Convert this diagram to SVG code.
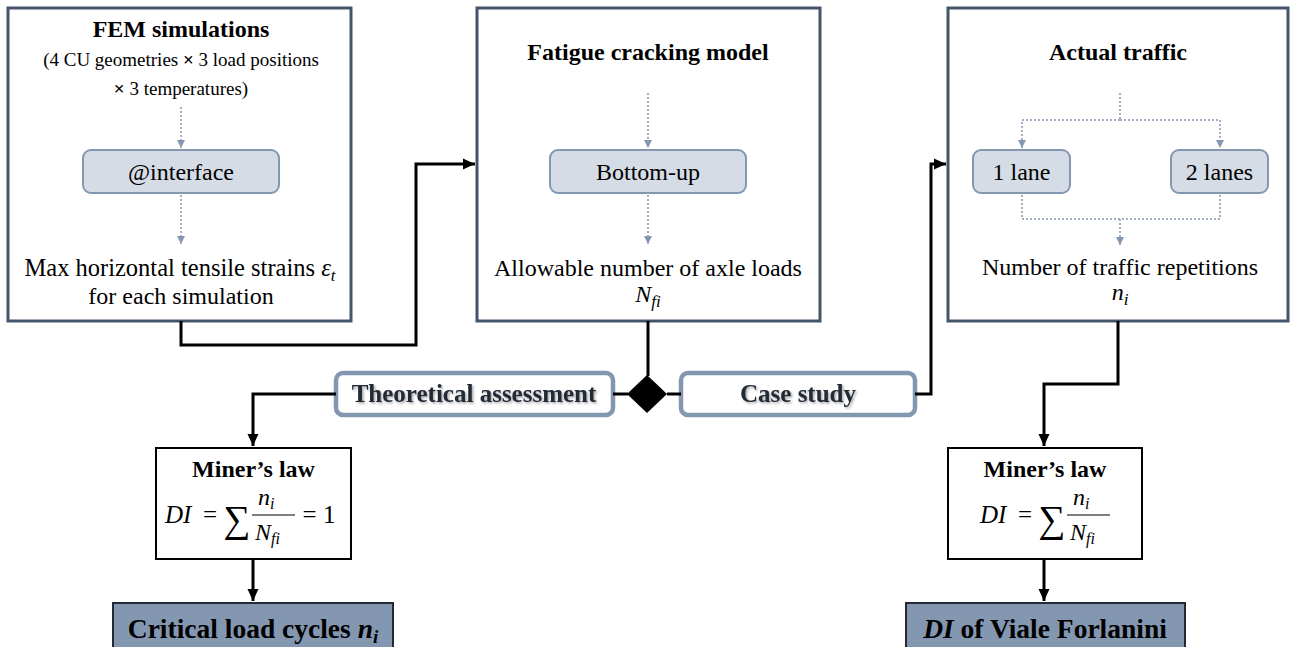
<svg xmlns="http://www.w3.org/2000/svg" width="1290" height="647" viewBox="0 0 1290 647">
<style>
.big{fill:#fff;stroke:#44546A;stroke-width:3}
.sub{fill:#D6DCE5;stroke:#8497B0;stroke-width:2}
.tag{fill:#fff;stroke:#8497B0;stroke-width:4.5}
.law{fill:#fff;stroke:#000;stroke-width:2}
.res{fill:#8497B0;stroke:#222A35;stroke-width:2}
.t{font-family:"Liberation Serif","Times New Roman",serif;fill:#000;text-anchor:middle}
.b{font-weight:bold}
.m{font-family:"Liberation Serif","Times New Roman",serif;font-style:italic}
.dot{fill:none;stroke:#8497B0;stroke-width:1.5;stroke-dasharray:2 2}
.con{fill:none;stroke:#000;stroke-width:3}
.tg{font-family:"Liberation Serif","Times New Roman",serif;font-weight:bold;fill:#222A35;text-anchor:middle;filter:url(#sh)}
</style>
<defs>
<marker id="da" markerUnits="userSpaceOnUse" markerWidth="10" markerHeight="10" refX="8" refY="5" orient="auto"><path d="M0,1 L8,5 L0,9 Z" fill="#8497B0"/></marker>
<marker id="ba" markerUnits="userSpaceOnUse" markerWidth="14" markerHeight="14" refX="12" refY="7" orient="auto"><path d="M0,1.5 L12,7 L0,12.5 Z" fill="#000"/></marker>
<filter id="sh" x="-10%" y="-30%" width="120%" height="160%"><feDropShadow dx="1.5" dy="1.5" stdDeviation="1" flood-color="#000" flood-opacity="0.35"/></filter>
</defs>

<g id="fem">
<rect class="big" x="8" y="8" width="343" height="313"/>
<text class="t b" x="181" y="37" font-size="24">FEM simulations</text>
<text class="t" x="181" y="66" font-size="19">(4 CU geometries <tspan font-weight="bold">×</tspan> 3 load positions</text>
<text class="t" x="181" y="95" font-size="19"><tspan font-weight="bold">×</tspan> 3 temperatures)</text>
<text class="t" x="180" y="276" font-size="24.5">Max horizontal tensile strains <tspan class="m">ε</tspan><tspan class="m" font-size="17" dy="5">t</tspan></text>
<text class="t" x="181" y="304" font-size="24">for each simulation</text>
</g>
<g id="interface">
<rect class="sub" x="83" y="150" width="196" height="43" rx="8"/>
<text class="t" x="181" y="180" font-size="24">@interface</text>
</g>

<g id="fatigue">
<rect class="big" x="477" y="8" width="343" height="313"/>
<text class="t b" x="648" y="60" font-size="24">Fatigue cracking model</text>
<text class="t" x="648" y="276" font-size="24">Allowable number of axle loads</text>
<text class="t" x="648" y="302" font-size="24"><tspan class="m">N</tspan><tspan class="m" font-size="17" dy="5">fi</tspan></text>
</g>
<g id="bottomup">
<rect class="sub" x="550" y="150" width="196" height="43" rx="8"/>
<text class="t" x="648" y="180" font-size="24">Bottom-up</text>
</g>

<g id="traffic">
<rect class="big" x="948" y="8" width="340" height="313"/>
<text class="t b" x="1118" y="60" font-size="24">Actual traffic</text>
<text class="t" x="1120" y="275" font-size="24">Number of traffic repetitions</text>
<text class="t" x="1120" y="300" font-size="24"><tspan class="m">n</tspan><tspan class="m" font-size="17" dy="5">i</tspan></text>
</g>
<g id="lane1">
<rect class="sub" x="973" y="150" width="97" height="43" rx="8"/>
<text class="t" x="1021.5" y="180" font-size="24">1 lane</text>
</g>
<g id="lane2">
<rect class="sub" x="1171" y="150" width="97" height="43" rx="8"/>
<text class="t" x="1219.5" y="180" font-size="24">2 lanes</text>
</g>

<g id="decision">
<path d="M647,375 L667,394 L647,413 L627,394 Z" fill="#000"/>
</g>
<g id="theoretical">
<rect class="tag" x="336" y="373" width="277" height="42" rx="7"/>
<text class="tg" x="474" y="402" font-size="25">Theoretical assessment</text>
</g>
<g id="casestudy">
<rect class="tag" x="681" y="373" width="234" height="42" rx="7"/>
<text class="tg" x="798" y="402" font-size="25">Case study</text>
</g>

<g id="miner1">
<rect class="law" x="156" y="448" width="195" height="111"/>
<text class="t b" x="253.5" y="477" font-size="24">Miner’s law</text>
<text class="m" x="165" y="523" font-size="25">DI</text>
<text class="t" x="210" y="523" font-size="25">=</text>
<text class="t" x="237" y="532" font-size="38">∑</text>
<text class="m" x="258" y="505" font-size="24">n<tspan font-size="16" dy="4">i</tspan></text>
<line x1="252" y1="515" x2="295" y2="515" stroke="#000" stroke-width="1.2"/>
<text class="m" x="255" y="540" font-size="24">N<tspan font-size="16" dy="4">fi</tspan></text>
<text class="t" x="319" y="523" font-size="25">= 1</text>
</g>
<g id="miner2">
<rect class="law" x="948" y="448" width="194" height="111"/>
<text class="t b" x="1045" y="477" font-size="24">Miner’s law</text>
<text class="m" x="980" y="523" font-size="25">DI</text>
<text class="t" x="1025" y="523" font-size="25">=</text>
<text class="t" x="1052" y="532" font-size="38">∑</text>
<text class="m" x="1073" y="505" font-size="24">n<tspan font-size="16" dy="4">i</tspan></text>
<line x1="1067" y1="515" x2="1110" y2="515" stroke="#000" stroke-width="1.2"/>
<text class="m" x="1070" y="540" font-size="24">N<tspan font-size="16" dy="4">fi</tspan></text>
</g>

<g id="critical">
<rect class="res" x="113" y="603" width="280" height="50"/>
<text class="t b" x="253" y="638" font-size="27.5">Critical load cycles <tspan font-style="italic">n</tspan><tspan font-style="italic" font-size="19" dy="5">i</tspan></text>
</g>
<g id="di">
<rect class="res" x="906" y="603" width="279" height="50"/>
<text class="t b" x="1045" y="638" font-size="27.5"><tspan font-style="italic">DI</tspan> of Viale Forlanini</text>
</g>

<g id="connectors">
<path class="con" d="M181,321 V345 H416 V164 H475" marker-end="url(#ba)"/>
<path class="con" d="M648,321 V376"/>
<path class="con" d="M613,394 H628"/>
<path class="con" d="M667,394 H681"/>
<path class="con" d="M336,394 H253 V446" marker-end="url(#ba)"/>
<path class="con" d="M915,394 H931 V164 H946" marker-end="url(#ba)"/>
<path class="con" d="M1118,321 V384 H1044 V446" marker-end="url(#ba)"/>
<path class="con" d="M253,560 V601" marker-end="url(#ba)"/>
<path class="con" d="M1044,560 V601" marker-end="url(#ba)"/>
<path class="dot" d="M181,107 V148" marker-end="url(#da)"/>
<path class="dot" d="M181,195 V244" marker-end="url(#da)"/>
<path class="dot" d="M648,93 V148" marker-end="url(#da)"/>
<path class="dot" d="M648,195 V244" marker-end="url(#da)"/>
<path class="dot" d="M1120,93 V120"/>
<path class="dot" d="M1120,120 H1022 V148" marker-end="url(#da)"/>
<path class="dot" d="M1120,120 H1220 V148" marker-end="url(#da)"/>
<path class="dot" d="M1022,195 V219 H1220 V195"/>
<path class="dot" d="M1120,219 V245" marker-end="url(#da)"/>
</g>
</svg>
